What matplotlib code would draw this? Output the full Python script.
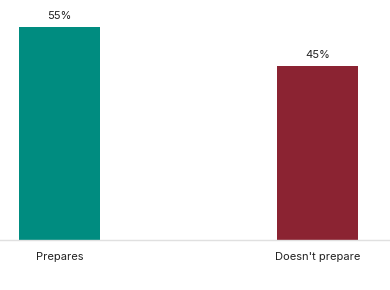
import matplotlib.pyplot as plt

categories = ["Prepares", "Doesn't prepare"]
values = [55, 45]
colors = ["#008C80", "#8B2332"]

plt.rcParams['font.family'] = ['Inter', 'DejaVu Sans']

fig = plt.figure(figsize=(3.9, 2.9), dpi=100)
ax = fig.add_axes([0, 50 / 290, 1, 240 / 290])

x = list(range(len(categories)))
bars = ax.bar(x, values, width=0.314, color=colors)

for xi, v in zip(x, values):
    ax.text(xi, v + 1.5, f"{v}%", ha='center', va='bottom', fontsize=8, color='#222222')

ax.set_xlim(-0.2306, 1.281)
ax.set_ylim(0, 62)
ax.set_xticks(x)
ax.set_xticklabels(categories, fontsize=8, color='#222222')
ax.tick_params(axis='x', length=0, pad=9)
ax.set_yticks([])
for s in ['top', 'left', 'right']:
    ax.spines[s].set_visible(False)
ax.spines['bottom'].set_color('#e0e0e0')
ax.spines['bottom'].set_linewidth(1)

fig.savefig('out.png', dpi=100)
